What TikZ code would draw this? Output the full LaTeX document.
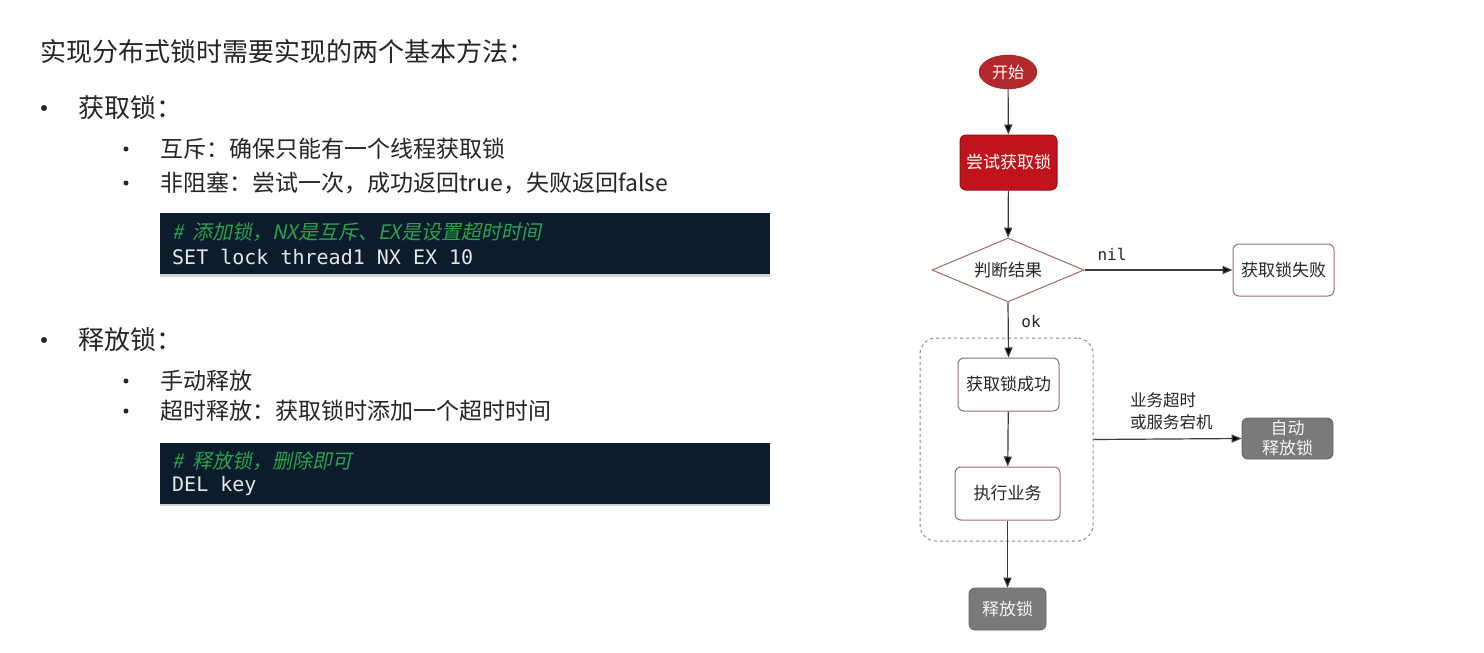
\documentclass[tikz,border=0pt]{standalone}
\usepackage{fontspec}
\setmainfont{Noto Sans CJK SC}
\setmonofont{DejaVu Sans Mono}
\newfontfamily\cmtfont[FakeSlant=0.2]{Noto Sans CJK SC}
\usetikzlibrary{shapes.geometric,arrows.meta,shadows}

\definecolor{ink}{HTML}{262626}
\definecolor{codebg}{HTML}{0C1C2C}
\definecolor{codefg}{HTML}{E6E6E6}
\definecolor{codecmt}{HTML}{2BA34C}
\definecolor{redfill}{HTML}{C0141C}
\definecolor{redline}{HTML}{9A1015}
\definecolor{startfill}{HTML}{B42A2C}
\definecolor{boxline}{HTML}{9C6E6E}
\definecolor{grayfill}{HTML}{7A7A7A}
\definecolor{wire}{HTML}{3C3C3C}
\definecolor{dashline}{HTML}{8A8A8A}

\newcommand{\fsz}[1]{\fontsize{#1}{#1}\selectfont}

\tikzset{
  txt/.style={inner sep=0pt, anchor=west, text=ink},
  lvlone/.style={txt, font=\fsz{26}},
  lvltwo/.style={txt, font=\fsz{23}},
  bigdot/.style={circle, fill=ink, draw=none, minimum size=6pt, inner sep=0pt},
  smalldot/.style={circle, fill=ink, draw=none, minimum size=5pt, inner sep=0pt},
  codeblock/.style={fill=codebg, draw=none, minimum width=610pt, minimum height=61pt,
    inner sep=0pt, drop shadow={opacity=0.35, shadow xshift=0pt, shadow yshift=-2.5pt}},
  cmt/.style={inner sep=0pt, anchor=west, text=codecmt, font=\cmtfont\fsz{20}},
  code/.style={inner sep=0pt, anchor=west, text=codefg, font=\ttfamily\fsz{20}},
  flowtxt/.style={font=\fsz{17}, text=ink, inner sep=0pt, align=center},
  whitebox/.style={flowtxt, draw=boxline, line width=1pt, fill=white, rounded corners=6pt},
  redbox/.style={flowtxt, draw=redline, line width=1pt, fill=redfill, text=white, rounded corners=6pt},
  graybox/.style={flowtxt, draw=grayfill!80!black, line width=0.8pt, fill=grayfill, text=white!92!gray, rounded corners=6pt},
  wirearrow/.style={draw=wire, line width=1.2pt, -{Triangle[length=10pt,width=8pt,fill=black]}},
  wirelabel/.style={font=\ttfamily\fsz{16}, text=ink, inner sep=0pt}
}

\begin{document}
\begin{tikzpicture}[x=1pt,y=-1pt]
  \useasboundingbox (0,0) rectangle (1484,653);
  \fill[white] (0,0) rectangle (1484,653);

  % ---- left column: text ----
  \node[lvlone] (title) at (40,52) {实现分布式锁时需要实现的两个基本方法：};

  \node[bigdot] (b1) at (44,108) {};
  \node[lvlone] (acq) at (78,108) {获取锁：};
  \node[smalldot] (b11) at (126,149) {};
  \node[lvltwo] (acq1) at (160,149) {互斥：确保只能有一个线程获取锁};
  \node[smalldot] (b12) at (126,183) {};
  \node[lvltwo] (acq2) at (160,183) {非阻塞：尝试一次，成功返回true，失败返回false};

  \node[codeblock] (code1) at (465,243.5) {};
  \node[cmt] (c1a) at (172,232) {\#\ \ 添加锁，NX是互斥、EX是设置超时时间};
  \node[code] (c1b) at (172,257) {SET lock thread1 NX EX 10};

  \node[bigdot] (b2) at (44,340) {};
  \node[lvlone] (rel) at (78,340) {释放锁：};
  \node[smalldot] (b21) at (126,381) {};
  \node[lvltwo] (rel1) at (160,381) {手动释放};
  \node[smalldot] (b22) at (126,411) {};
  \node[lvltwo] (rel2) at (160,411) {超时释放：获取锁时添加一个超时时间};

  \node[codeblock] (code2) at (465,473) {};
  \node[cmt] (c2a) at (172,461) {\#\ \ 释放锁，删除即可};
  \node[code] (c2b) at (172,486) {DEL key};

  % ---- right column: flowchart ----
  \node[draw=dashline, dashed, line width=1pt, rounded corners=16pt,
        minimum width=173pt, minimum height=203pt, inner sep=0pt] (grp) at (1006.5,439.5) {};

  \node[ellipse, draw=startfill!80!black, fill=startfill, text=white, font=\fsz{16},
        minimum width=58pt, minimum height=34pt, inner sep=0pt] (start) at (1008,72) {开始};
  \node[redbox, minimum width=97pt, minimum height=55pt] (try) at (1008.5,162.5) {尝试获取锁};
  \node[diamond, aspect=2.4, draw=boxline, line width=1pt, fill=white, flowtxt,
        minimum width=152pt, minimum height=64pt] (judge) at (1008,270) {判断结果};
  \node[whitebox, minimum width=101pt, minimum height=52pt] (fail) at (1283.5,270) {获取锁失败};
  \node[whitebox, minimum width=101pt, minimum height=53pt] (okbox) at (1008.5,384.5) {获取锁成功};
  \node[whitebox, minimum width=105pt, minimum height=53pt] (exec) at (1007.5,493.5) {执行业务};
  \node[graybox, minimum width=77pt, minimum height=42pt] (release) at (1007.5,609) {释放锁};
  \node[graybox, minimum width=91pt, minimum height=41pt, font=\fontsize{17}{20}\selectfont] (auto) at (1287.5,438.5) {自动\\释放锁};

  \draw[wirearrow] (start) -- (try);
  \draw[wirearrow] (try) -- (judge);
  \draw[wirearrow] (judge.east) -- (fail.west);
  \draw[wirearrow] (judge.south) -- (okbox.north);
  \draw[wirearrow] (okbox) -- (exec);
  \draw[wirearrow] (exec) -- (release);
  \draw[wirearrow] (grp.east) -- (auto.west);

  \node[wirelabel] (nil) at (1112,254) {nil};
  \node[wirelabel] (ok) at (1031,322) {ok};
  \node[flowtxt, font=\fontsize{16.5}{22}\selectfont, align=left, anchor=west] (why) at (1130,411) {业务超时\\或服务宕机};
\end{tikzpicture}
\end{document}
